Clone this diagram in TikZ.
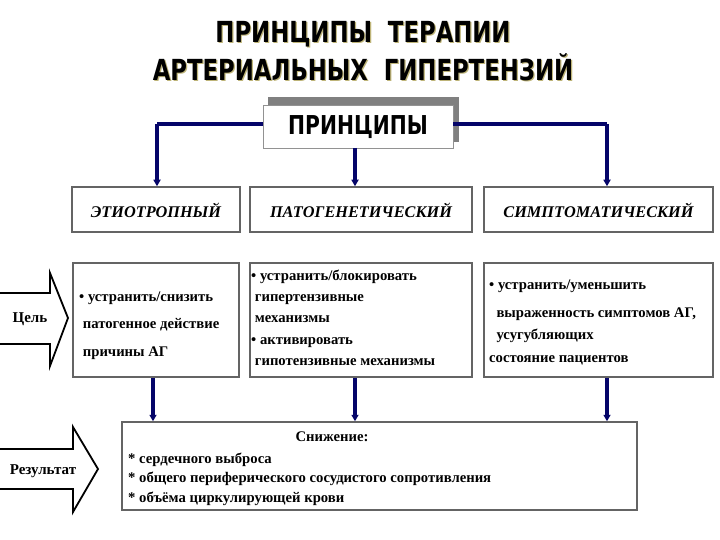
\documentclass[tikz,border=0pt]{standalone}
\usepackage{fontspec}
\setmainfont{Liberation Serif}
\newfontfamily\titlefont{DejaVu Sans}
\usetikzlibrary{arrows.meta}
\definecolor{navyline}{RGB}{5,5,105}
\definecolor{boxline}{RGB}{100,100,100}
\definecolor{shadowgray}{RGB}{128,128,128}
\definecolor{titleshadow}{RGB}{190,180,120}
\begin{document}
\begin{tikzpicture}[x=1pt,y=-1pt,
  conn/.style={draw=navyline, line width=3.1pt},
  connarrow/.style={conn, -{Triangle[length=6.5pt,width=7pt]}},
  rowbox/.style={draw=boxline, line width=1.5pt, fill=white, inner sep=0pt},
  typelabel/.style={font=\fontsize{16.3}{20}\selectfont\bfseries\itshape},
  bodytext/.style={font=\fontsize{14.7}{17}\selectfont\bfseries, anchor=north west, align=left, inner sep=0pt},
  blockarrow/.style={draw=black, line width=1.8pt, fill=white, line join=miter},
  arrowlabel/.style={font=\fontsize{15}{18}\selectfont\bfseries},
  titletext/.style={font=\titlefont\bfseries\fontsize{29}{33}\selectfont}
]
\useasboundingbox (0,0) rectangle (720,540);
\fill[white] (0,0) rectangle (720,540);

% Title
\node[titletext, text=titleshadow] (t1s) at (364.2,35.2) {\scalebox{0.785}[1]{ПРИНЦИПЫ\ \ ТЕРАПИИ}};
\node[titletext, text=titleshadow] (t2s) at (364.2,68.2) {\scalebox{0.785}[1]{АРТЕРИАЛЬНЫХ\ \ ГИПЕРТЕНЗИЙ}};
\node[titletext] (t1) at (363,34) {\scalebox{0.785}[1]{ПРИНЦИПЫ\ \ ТЕРАПИИ}};
\node[titletext] (t2) at (363,67) {\scalebox{0.785}[1]{АРТЕРИАЛЬНЫХ\ \ ГИПЕРТЕНЗИЙ}};

% Principles box with shadow
\fill[shadowgray] (268,97) rectangle (459,142);
\node[rowbox, draw=boxline!70, line width=0.8pt, minimum width=190pt, minimum height=43pt] (pr) at (358,126.5) {};
\node[titletext, font=\titlefont\bfseries\fontsize{26}{30}\selectfont] (prt) at (358,127.5) {\scalebox{0.78}[1]{ПРИНЦИПЫ}};

% junction coordinates
\coordinate (jl) at (157,124);
\coordinate (jr) at (607,124);
\coordinate (jm) at (355,148);

% Row 1
\node[rowbox, minimum width=168pt, minimum height=45pt] (e1) at (156,209.5) {};
\node[rowbox, minimum width=222pt, minimum height=45pt] (e2) at (361,209.5) {};
\node[rowbox, minimum width=229pt, minimum height=45pt] (e3) at (598.5,209.5) {};
\node[typelabel] (l1) at (156,210) {ЭТИОТРОПНЫЙ};
\node[typelabel] (l2) at (361,210) {ПАТОГЕНЕТИЧЕСКИЙ};
\node[typelabel] (l3) at (598.5,210) {СИМПТОМАТИЧЕСКИЙ};

% Connectors from principles
\draw[conn] (pr.west |- jl) -- (jl);
\draw[conn] (pr.east |- jr) -- (jr);
\draw[connarrow] (jl) -- (jl |- e1.north);
\draw[connarrow] (jr) -- (jr |- e3.north);
\draw[connarrow] (jm) -- (jm |- e2.north);

% Row 2
\node[rowbox, minimum width=166pt, minimum height=114pt] (g1) at (156,320) {};
\node[rowbox, minimum width=222pt, minimum height=114pt] (g2) at (361,320) {};
\node[rowbox, minimum width=229pt, minimum height=114pt] (g3) at (598.5,320) {};

\node[bodytext, font=\fontsize{14.7}{27.5}\selectfont\bfseries] (b1) at (79,291.5)
  {• устранить/снизить\\\ патогенное действие\\\ причины АГ};
\node[bodytext, font=\fontsize{14.7}{21.3}\selectfont\bfseries] (b2) at (251,269.5)
  {• устранить/блокировать\\\ гипертензивные\\\ механизмы\\• активировать\\\ гипотензивные механизмы};
\node[bodytext, font=\fontsize{14.7}{22.7}\selectfont\bfseries] (b3) at (489,279.5)
  {• устранить/уменьшить\\[5pt]\ \ выраженность симптомов АГ,\\\ \ усугубляющих\\состояние пациентов};

% Results box
\node[rowbox, minimum width=515pt, minimum height=88pt] (res) at (379.5,466) {};
\node[font=\fontsize{14.7}{17}\selectfont\bfseries] (sn) at (332,437) {Снижение:};
\node[bodytext, font=\fontsize{14.7}{19.5}\selectfont\bfseries] (rl) at (128,452.5)
  {* сердечного выброса\\* общего периферического сосудистого сопротивления\\* объёма циркулирующей крови};

% Arrows to results
\coordinate (a1) at (153,378);
\coordinate (a2) at (355,378);
\coordinate (a3) at (607,378);
\draw[connarrow] (a1) -- (a1 |- res.north);
\draw[connarrow] (a2) -- (a2 |- res.north);
\draw[connarrow] (a3) -- (a3 |- res.north);

% Block arrows
\draw[blockarrow] (-3,293) -- (50,293) -- (50,273) -- (68,318) -- (50,366) -- (50,344) -- (-3,344) -- cycle;
\node[arrowlabel] (goal) at (30,319) {Цель};
\draw[blockarrow] (-3,449) -- (73,449) -- (73,427) -- (98,469) -- (73,512) -- (73,489) -- (-3,489) -- cycle;
\node[arrowlabel] (result) at (43,471) {Результат};
\end{tikzpicture}
\end{document}
